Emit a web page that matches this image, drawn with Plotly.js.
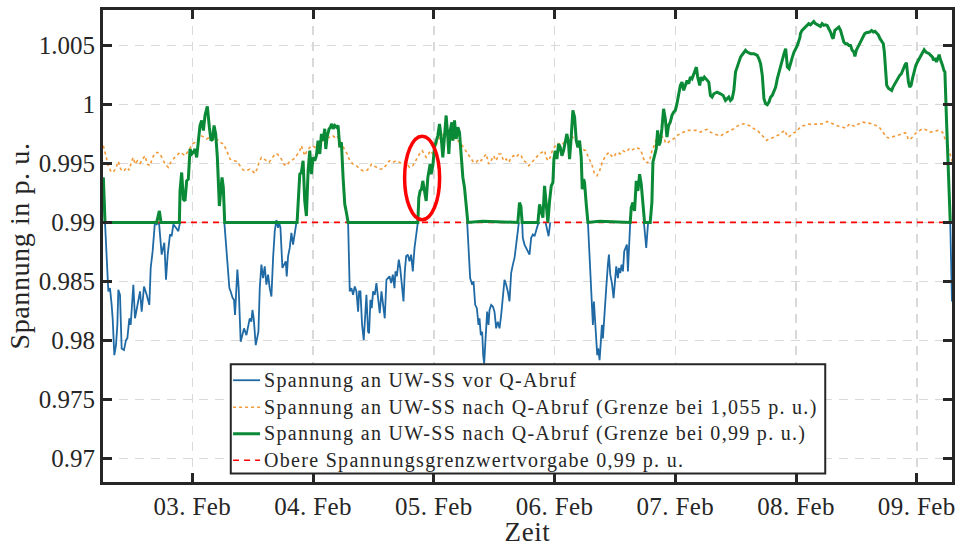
<!DOCTYPE html>
<html>
<head>
<meta charset="utf-8">
<script src="https://cdn.plot.ly/plotly-3.0.1.min.js"></script>
<style>
html,body{margin:0;padding:0;background:#fff;}
#chart{width:955px;height:547px;}
.annotation-text{letter-spacing:1.3px;}
.xtick text{letter-spacing:0.4px;}
.g-xtitle text,.g-ytitle text{letter-spacing:0.6px;}
</style>
</head>
<body>
<div id="chart"></div>
<script>
// Hours relative to 03. Feb 00:00
var blueHours = [-17.69,-17.36,-16.70,-16.37,-16.04,-15.84,-15.51,-15.18,-14.91,-14.71,-14.38,-14.05,-13.59,-13.19,-12.92,-12.52,-12.26,-11.73,-11.40,-10.93,-10.40,-10.07,-9.61,-9.08,-8.55,-8.28,-7.89,-7.42,-7.09,-6.63,-6.10,-5.57,-5.24,-4.90,-4.44,-4.11,-3.78,-3.25,-2.78,-2.45,null,
 6.36,7.36,7.62,8.02,8.28,8.48,8.95,9.21,9.61,10.01,10.27,10.75,11.08,11.41,11.74,11.94,12.20,12.40,12.60,12.87,13.13,13.40,13.73,14.06,14.39,14.72,15.05,15.38,15.72,16.05,16.38,16.71,17.04,17.24,17.51,17.90,18.23,18.57,18.76,19.03,19.36,19.69,20.02,20.36,20.69,null,
 30.96,31.29,31.62,31.95,32.28,32.62,32.95,33.15,33.41,33.74,34.07,34.40,34.60,34.93,35.13,35.40,35.66,35.93,36.26,36.59,36.92,37.25,37.59,37.92,38.25,38.58,38.91,39.19,39.52,39.85,40.18,40.38,40.64,41.04,41.31,41.70,41.97,42.23,42.50,42.83,43.16,43.49,43.82,44.16,44.49,44.82,null,
 54.63,54.96,55.22,55.62,55.89,56.22,56.55,56.88,57.08,57.34,57.61,57.81,58.01,58.21,58.40,58.60,58.87,59.07,59.40,59.73,60.06,60.39,60.72,61.06,61.39,61.72,62.05,62.38,62.71,63.04,63.37,63.71,64.04,64.37,64.70,64.90,null,
 65.56,65.69,66.02,66.36,66.69,67.02,67.35,67.69,68.02,68.36,68.69,69.02,null,
 70.21,70.54,70.81,71.14,null,
 78.63,78.83,79.09,79.36,79.62,79.82,80.09,80.28,80.48,80.68,80.95,81.15,81.41,81.61,81.94,82.27,82.60,82.80,83.07,83.40,83.73,83.99,84.26,84.59,84.79,85.06,85.32,85.59,85.85,86.12,86.38,86.58,86.78,87.04,null,
 89.76,90.03,90.22,90.56,90.75,null,
 150.65,151.0];
var blueValues = [0.99381,0.99,0.98415,0.98443,0.98301,0.98187,0.97875,0.9796,0.98131,0.98429,0.98386,0.97932,0.97918,0.98003,0.98017,0.98187,0.98131,0.98472,0.98187,0.98301,0.98415,0.98244,0.98457,0.98386,0.98301,0.98614,0.98756,0.99011,0.98983,0.99,0.98727,0.98827,0.98514,0.98727,0.98898,0.98883,0.98983,0.98955,0.98926,0.99,null,
 0.99,0.98443,0.98415,0.98358,0.98344,0.98216,0.986,0.98443,0.97989,0.98074,0.98102,0.98045,0.98131,0.98187,0.98159,0.98258,0.98187,0.98017,0.9796,0.98017,0.98074,0.98443,0.98642,0.98528,0.98628,0.98472,0.98557,0.98443,0.98372,0.98699,0.98926,0.9902,0.98955,0.99,0.98955,0.98614,0.98642,0.9867,0.98543,0.98713,0.98784,0.98912,0.98812,0.98926,0.99,null,
 0.99,0.98415,0.98443,0.98386,0.98457,0.98415,0.98244,0.98415,0.98415,0.98131,0.98003,0.98244,0.98386,0.98074,0.9806,0.98344,0.98273,0.98415,0.98386,0.98486,0.98358,0.9823,0.98415,0.98301,0.98187,0.98514,0.98528,0.98543,0.98486,0.98557,0.98443,0.98585,0.98543,0.98685,0.98614,0.98472,0.9833,0.98585,0.98713,0.98727,0.9867,0.98727,0.98585,0.98784,0.98898,0.99,null,
 0.99,0.98699,0.98528,0.98472,0.985,0.98301,0.98273,0.98131,0.98187,0.98045,0.98074,0.97875,0.97804,0.9796,0.98131,0.98244,0.98131,0.98258,0.98301,0.98287,0.98244,0.98102,0.98159,0.98102,0.98216,0.98386,0.98514,0.98472,0.98415,0.9833,0.98571,0.98642,0.98699,0.98812,0.98926,0.99,null,
 0.99,0.98869,0.98812,0.98784,0.98756,0.98727,0.98869,0.98898,0.98883,0.9894,0.98983,0.99,null,
 0.99,0.9894,0.98883,0.99,null,
 0.99,0.98812,0.98585,0.98301,0.98131,0.9833,0.98102,0.97932,0.97875,0.97932,0.97832,0.9796,0.98131,0.98017,0.98273,0.98443,0.98642,0.98727,0.98557,0.98486,0.98358,0.985,0.98628,0.98528,0.98614,0.98571,0.98642,0.98585,0.98756,0.98784,0.98812,0.98585,0.98827,0.99,null,
 0.99,0.98869,0.98784,0.98983,0.99,null,
 0.99,0.9833];

var orangeHours = [-17.69,-17.16,-16.70,-16.24,-15.71,-15.18,-14.71,-14.38,-14.05,-13.59,-13.06,-12.52,-12.06,-11.73,-11.40,-10.93,-10.40,-9.87,-9.41,-8.95,-8.42,-7.89,-7.42,-6.96,-6.43,-5.90,-5.43,-4.77,-4.31,-3.78,-3.11,-2.45,-1.92,-1.46,-0.99,-0.46,0.07,0.53,1.19,1.72,2.32,2.85,3.51,4.17,4.84,5.50,6.16,6.83,7.49,8.15,8.81,9.48,10.14,
 10.75,11.41,11.94,12.40,12.87,13.26,13.73,14.19,14.72,15.25,15.72,16.18,16.71,17.24,17.70,18.17,18.70,19.23,19.69,20.16,20.69,21.35,21.68,22.01,22.34,22.81,23.34,23.87,24.33,24.80,25.33,25.99,26.65,27.31,27.84,28.31,28.77,29.30,29.83,30.30,30.76,31.29,31.95,32.62,33.28,33.94,34.60,35.27,35.60,36.06,36.59,37.25,37.92,38.58,
 39.19,39.85,40.51,41.17,41.84,42.50,43.16,43.82,44.49,45.15,45.68,46.14,46.48,46.81,47.27,47.80,48.33,48.80,49.46,50.12,50.78,51.45,52.11,52.77,53.43,54.10,54.76,55.42,55.89,56.42,56.95,57.41,57.87,58.40,58.93,59.40,59.86,60.39,60.92,61.39,61.85,62.38,62.91,63.37,63.84,64.37,64.90,65.36,65.83,66.36,66.89,
 67.69,68.36,69.02,69.68,70.01,70.34,70.67,71.14,71.67,72.20,72.66,73.13,73.66,74.19,74.85,75.51,76.18,76.84,77.50,78.16,78.63,79.09,79.49,79.95,80.42,80.95,81.48,82.14,82.80,83.27,83.73,84.13,84.59,85.06,85.59,86.25,86.78,87.24,87.71,88.24,88.90,89.43,
 89.68,90.02,90.48,90.88,91.15,91.41,91.68,92.01,92.34,92.68,93.01,93.34,93.67,94.01,94.34,94.67,95.00,95.67,96.33,97.00,97.66,98.33,98.99,99.66,100.32,100.99,101.65,102.32,102.98,103.65,104.31,104.98,105.64,106.31,106.97,107.64,108.30,108.97,109.63,110.30,110.96,111.63,112.29,112.95,113.62,114.15,114.62,115.28,115.95,116.61,117.28,117.74,118.07,118.41,118.94,119.60,120.27,
 120.53,121.19,121.86,122.52,123.19,123.85,124.52,125.18,125.85,126.18,126.51,127.18,127.84,128.51,129.17,129.84,130.37,130.70,131.17,131.70,132.16,132.63,133.16,133.83,134.49,135.16,135.82,136.49,137.02,137.48,137.95,138.48,139.15,139.81,140.48,141.14,141.67,142.01,142.27,142.67,143.14,143.67,144.13,144.60,145.13,145.66,146.13,146.59,147.12,147.66,148.12,148.59,149.12,149.59,149.92,150.18,150.45,150.78,151.11];
var orangeValues = [0.9965,0.99551,0.9948,0.99437,0.99423,0.99466,0.99517,0.99466,0.99437,0.99437,0.99466,0.99443,0.99523,0.99551,0.99494,0.99523,0.995,0.99537,0.99565,0.99494,0.9948,0.99551,0.99585,0.99594,0.9958,0.99537,0.99494,0.99466,0.99509,0.99537,0.99565,0.99594,0.9958,0.99565,0.99594,0.99636,0.99665,0.99679,0.99707,0.99736,0.99722,0.99707,0.99722,0.99693,0.99707,0.99679,0.99665,0.99608,0.99537,0.99523,0.99517,0.9948,0.99443,
 0.99437,0.99452,0.99437,0.99415,0.99452,0.99509,0.99551,0.99537,0.99523,0.99509,0.99537,0.99565,0.99585,0.99565,0.99537,0.99494,0.9948,0.99509,0.99523,0.99537,0.99565,0.99608,0.9965,0.99608,0.99565,0.99608,0.99636,0.9965,0.99636,0.99665,0.9967,0.99693,0.99707,0.99722,0.99736,0.99722,0.99736,0.99693,0.9965,0.99622,0.9958,0.99523,0.99494,0.9948,0.99452,0.99437,0.99437,0.99466,0.99494,0.9948,0.99466,0.99452,0.99452,0.99494,
 0.99523,0.99509,0.99523,0.99509,0.99494,0.99509,0.99466,0.9948,0.99537,0.9958,0.99608,0.9958,0.99551,0.99565,0.99608,0.9958,0.9965,0.99693,0.99736,0.9975,0.99722,0.99699,0.99707,0.99693,0.99665,0.99622,0.9958,0.99537,0.99509,0.99509,0.99537,0.99523,0.99551,0.9958,0.99494,0.99523,0.99565,0.99523,0.9958,0.9958,0.99523,0.99537,0.99509,0.99551,0.99565,0.99551,0.9958,0.99565,0.99523,0.99509,0.9948,
 0.99523,0.99551,0.9958,0.99594,0.99608,0.99551,0.99523,0.99551,0.99622,0.9965,0.9967,0.9965,0.99665,0.99693,0.99722,0.99727,0.99693,0.99665,0.99622,0.99608,0.99565,0.99509,0.9948,0.99409,0.99395,0.99437,0.99509,0.99565,0.99594,0.99565,0.99551,0.9958,0.99594,0.9958,0.99608,0.99594,0.99622,0.99608,0.99622,0.99636,0.99622,0.9958,
 0.9954,0.99511,0.99506,0.99525,0.99568,0.99624,0.99638,0.99681,0.99723,0.99695,0.99709,0.99723,0.99723,0.99681,0.99667,0.99681,0.99695,0.99709,0.99737,0.99751,0.99765,0.9978,0.9978,0.9978,0.9978,0.99765,0.9978,0.99788,0.99765,0.99751,0.99743,0.99732,0.99751,0.99765,0.9978,0.99794,0.99816,0.9983,0.99836,0.99828,0.99816,0.99794,0.9978,0.99751,0.99723,0.99695,0.99709,0.99715,0.99732,0.99743,0.99765,0.9978,0.99751,0.99723,0.99737,0.9976,0.99771,
 0.99794,0.99816,0.99828,0.99833,0.9983,0.9983,0.99833,0.99836,0.99845,0.99856,0.9985,0.99836,0.99822,0.99814,0.99808,0.99799,0.99822,0.99836,0.99822,0.99814,0.99828,0.99836,0.9985,0.99845,0.99842,0.99836,0.99822,0.99808,0.9978,0.99751,0.99723,0.99715,0.99723,0.99732,0.99743,0.99751,0.9976,0.99751,0.99703,0.99703,0.99723,0.99751,0.99765,0.9978,0.99794,0.99788,0.9978,0.99765,0.99765,0.99771,0.9978,0.99774,0.99765,0.99709,0.99681,0.99638,0.99596,0.99554,0.99511];

var greenHours = [-17.69,-17.36,-7.09,-6.56,-6.23,-2.58,-2.45,-2.12,-1.79,-1.46,-1.13,-0.80,-0.46,-0.13,0.20,0.53,0.86,1.19,1.52,1.86,2.19,2.52,2.98,3.38,3.71,4.04,4.31,4.64,4.97,5.37,5.63,5.90,6.16,6.43,
 20.82,21.02,21.35,21.68,22.01,22.34,22.67,23.01,23.34,23.67,24.00,24.33,24.66,24.99,25.33,25.66,25.99,26.32,26.52,26.78,27.18,27.45,27.71,27.98,28.31,28.64,28.97,29.30,29.63,29.96,30.30,30.63,30.96,
 44.82,45.02,45.28,45.55,45.81,46.14,46.48,46.81,47.01,47.27,47.47,47.80,48.13,48.46,48.80,49.13,49.46,49.79,50.12,50.45,50.78,50.98,51.25,51.58,51.78,52.11,52.44,52.77,53.10,53.43,53.77,54.10,54.43,54.76,57.74,64.70,65.03,65.30,65.56,
 68.69,69.02,69.35,69.68,70.01,70.34,70.67,71.01,71.34,71.67,71.87,72.13,72.46,72.80,73.13,73.46,73.79,74.12,74.45,74.78,74.98,75.31,75.64,75.98,76.31,76.64,76.97,77.30,77.50,77.77,77.96,78.30,78.63,80.95,
 87.04,87.24,87.57,87.90,88.24,88.57,88.90,89.23,89.56,89.89,91.01,
 91.35,91.55,91.81,92.21,92.48,92.74,93.01,93.34,93.67,94.01,94.34,94.67,95.00,95.34,95.67,96.00,96.33,96.66,97.00,97.33,97.66,97.99,98.33,98.66,98.99,99.32,99.66,99.99,100.19,100.45,100.85,101.12,101.39,101.78,102.12,102.65,102.98,103.31,103.65,104.31,104.98,105.51,105.97,106.31,106.64,106.97,107.30,107.64,107.97,108.30,108.63,108.97,109.30,109.63,109.96,110.30,110.96,111.63,112.29,112.62,112.95,113.29,113.62,113.95,114.28,114.62,114.95,115.28,115.61,115.95,116.28,116.61,116.94,117.28,117.61,117.94,118.28,118.61,118.94,119.27,119.60,119.94,120.27,120.80,
 120.86,121.19,121.53,121.86,122.19,122.52,122.86,123.19,123.52,123.85,124.19,124.52,124.85,125.18,125.52,125.85,126.18,126.51,126.85,127.18,127.38,127.71,128.18,128.51,128.84,129.17,129.51,129.84,130.17,130.50,130.84,131.17,131.50,131.70,131.97,132.30,132.63,132.96,133.30,133.63,133.96,134.29,134.62,135.02,135.36,135.69,136.02,136.35,136.69,137.02,137.35,137.55,137.82,138.02,138.35,138.68,139.01,139.28,139.61,139.94,140.28,140.61,140.94,141.27,141.67,141.94,142.14,142.34,142.60,142.87,143.14,143.47,143.80,144.13,144.47,144.80,145.13,145.46,145.80,146.13,146.46,146.79,147.12,147.32,147.66,147.92,148.19,148.45,148.65,148.92,149.12,149.39,149.59,149.92,150.18,150.45,150.65,150.92];
var greenValues = [0.99381,0.99,0.99,0.99097,0.99,0.99,0.99267,0.99423,0.99196,0.99182,0.99352,0.99366,0.99622,0.9958,0.99594,0.99622,0.99551,0.99665,0.99821,0.99864,0.99778,0.99906,0.99983,0.99807,0.99693,0.99707,0.99821,0.9975,0.99551,0.99139,0.99267,0.99381,0.99295,0.99,
 0.99,0.99153,0.99409,0.99423,0.99523,0.99182,0.99054,0.99437,0.99608,0.99409,0.99551,0.99523,0.99565,0.99693,0.9958,0.9975,0.99693,0.99793,0.99622,0.99722,0.99793,0.99807,0.99835,0.99793,0.99821,0.99807,0.99821,0.99636,0.99679,0.99381,0.99153,0.99082,0.99,
 0.99,0.9921,0.99267,0.99281,0.99352,0.99281,0.99182,0.99381,0.99437,0.99494,0.99409,0.9948,0.99636,0.99693,0.99736,0.99835,0.99722,0.99551,0.9975,0.99906,0.99722,0.9958,0.99778,0.99849,0.99693,0.99864,0.99707,0.99807,0.99764,0.99523,0.99381,0.99295,0.99153,0.99,0.9901,0.99,0.99168,0.99139,0.99,
 0.99,0.99153,0.99097,0.9904,0.9931,0.99125,0.99,0.99182,0.9931,0.99338,0.99537,0.99608,0.99537,0.99665,0.99636,0.99565,0.99608,0.99679,0.9975,0.99665,0.99537,0.99722,0.99949,0.99892,0.99693,0.99636,0.99693,0.99551,0.99281,0.99366,0.99338,0.99153,0.99,0.9901,
 0.99,0.99125,0.99168,0.99097,0.99352,0.99267,0.99409,0.99324,0.99182,0.99,0.99,
 0.99172,0.99511,0.99568,0.99624,0.9978,0.99653,0.99681,0.99794,0.99963,0.99879,0.99723,0.99822,0.9985,0.99907,0.99935,0.99949,1.00006,1.0009,1.00161,1.00189,1.00119,1.00161,1.00203,1.00175,1.00232,1.00218,1.0026,1.00302,1.00316,1.00232,1.00161,1.00232,1.00203,1.00232,1.00218,1.00189,1.00076,1.00062,1.0009,1.00104,1.0009,1.00076,1.00034,1.00048,1.00062,1.00034,1.00048,1.00119,1.00274,1.00316,1.00359,1.00401,1.00421,1.00444,1.00458,1.00444,1.0043,1.0043,1.00415,1.00387,1.00345,1.00246,1.00048,1.00006,0.99997,1.0002,1.00062,1.00076,1.00119,1.00147,1.00218,1.00274,1.0033,1.00387,1.0043,1.00472,1.00316,1.00302,1.00359,1.00401,1.00444,1.00472,1.005,1.00571,
 1.00599,1.00627,1.00641,1.00655,1.0067,1.00684,1.00675,1.00692,1.00703,1.00684,1.00675,1.0067,1.00661,1.00684,1.0067,1.00675,1.0067,1.00641,1.00613,1.00571,1.00557,1.00627,1.00647,1.00655,1.00627,1.00571,1.00528,1.00514,1.00514,1.005,1.005,1.00458,1.00444,1.00407,1.00458,1.00486,1.00514,1.00542,1.00571,1.00599,1.00607,1.00613,1.00613,1.00627,1.00613,1.00619,1.00599,1.0059,1.00557,1.00534,1.00514,1.00444,1.00274,1.00161,1.00138,1.00127,1.00119,1.00147,1.00175,1.00189,1.00218,1.00246,1.0026,1.00302,1.00336,1.00353,1.00274,1.00189,1.00147,1.00161,1.00218,1.00288,1.0033,1.00359,1.00387,1.00421,1.00449,1.00463,1.00444,1.00438,1.0043,1.00415,1.00401,1.00373,1.00393,1.00359,1.00401,1.00421,1.00387,1.00359,1.0033,1.00288,1.00274,0.9985,0.99483,0.99116,0.99003,0.99];

var limitHours = [-17.76, 151.0];
var limitValue = 0.99;

var xTickDays = ['2021-02-03','2021-02-04','2021-02-05','2021-02-06','2021-02-07','2021-02-08','2021-02-09'];
var yTickVals = [0.97,0.975,0.98,0.985,0.99,0.995,1,1.005];
var yTickText = ['0.97','0.975','0.98','0.985','0.99','0.995','1','1.005'];

var seriesNames = [
  'Spannung an UW-SS vor Q-Abruf',
  'Spannung an UW-SS nach Q-Abruf (Grenze bei 1,055 p. u.)',
  'Spannung an UW-SS nach Q-Abruf (Grenze bei 0,99 p. u.)',
  'Obere Spannungsgrenzwertvorgabe 0,99 p. u.'
];

var base = Date.UTC(2021, 1, 3, 0, 0, 0);
function toDate(h) {
  if (h === null) return null;
  return new Date(base + h * 3600000).toISOString().replace('T', ' ').replace('Z', '').slice(0, 19);
}

var font = 'Liberation Serif, Times New Roman, serif';
var dark = '#262626';

var styles = [
  {color: '#1f6aa5', width: 1.8, dash: 'solid'},
  {color: '#f29a38', width: 1.6, dash: 'dot'},
  {color: '#0a8a36', width: 3, dash: 'solid'},
  {color: '#ff0000', width: 1.6, dash: '6px,5px'}
];

var traces = [
  {x: blueHours.map(toDate), y: blueValues, name: seriesNames[0], mode: 'lines', line: styles[0], connectgaps: false},
  {x: orangeHours.map(toDate), y: orangeValues, name: seriesNames[1], mode: 'lines', line: styles[1]},
  {x: limitHours.map(toDate), y: limitHours.map(function(){return limitValue;}), name: seriesNames[3], mode: 'lines', line: styles[3]},
  {x: greenHours.map(toDate), y: greenValues, name: seriesNames[2], mode: 'lines', line: styles[2]}
];

// Legend box drawn in paper coordinates (layout only)
var legBox = {x0: 0.1505, x1: 0.8507, y0: 0.0178, y1: 0.2495};
var legRowsY = [0.2156, 0.1584, 0.1022, 0.0460];
var legLineX = [0.1532, 0.1850];
var legTextX = 0.1873;

var shapes = [{
  type: 'circle', xref: 'x', yref: 'y',
  x0: toDate(42.19), x1: toDate(49.15), y0: 0.99022, y1: 0.99731,
  line: {color: '#ff0000', width: 3.5}
}, {
  type: 'rect', xref: 'paper', yref: 'paper',
  x0: legBox.x0, x1: legBox.x1, y0: legBox.y0, y1: legBox.y1,
  fillcolor: '#ffffff', line: {color: dark, width: 2}
}];
var annotations = [];
seriesNames.forEach(function(name, i) {
  shapes.push({type: 'line', xref: 'paper', yref: 'paper',
    x0: legLineX[0], x1: legLineX[1], y0: legRowsY[i], y1: legRowsY[i],
    line: {color: styles[i].color, width: styles[i].width, dash: styles[i].dash}});
  annotations.push({xref: 'paper', yref: 'paper', x: legTextX, y: legRowsY[i],
    xanchor: 'left', yanchor: 'middle', showarrow: false, text: name,
    font: {family: font, size: 20, color: dark}});
});

var layout = {
  width: 955, height: 547,
  margin: {l: 103, r: 3, t: 10, b: 65},
  paper_bgcolor: '#ffffff', plot_bgcolor: '#ffffff',
  font: {family: font, color: dark, size: 24},
  showlegend: false,
  xaxis: {
    type: 'date',
    range: [toDate(limitHours[0]), toDate(limitHours[1])],
    tickvals: xTickDays, tickformat: '%d. %b',
    ticks: 'inside', ticklen: 9, tickwidth: 3, tickcolor: dark,
    showline: true, linewidth: 3, linecolor: dark, mirror: 'ticks',
    showgrid: true, gridcolor: '#d9d9d9', gridwidth: 1.5, griddash: '9px,7px',
    zeroline: false, ticklabeloverflow: 'allow',
    tickfont: {family: font, size: 25, color: dark},
    title: {text: 'Zeit', font: {family: font, size: 27, color: dark}, standoff: 9}
  },
  yaxis: {
    range: [0.968, 1.008],
    tickvals: yTickVals, ticktext: yTickText,
    ticks: 'inside', ticklen: 9, tickwidth: 3, tickcolor: dark,
    showline: true, linewidth: 3, linecolor: dark, mirror: 'ticks',
    showgrid: true, gridcolor: '#d9d9d9', gridwidth: 1.5, griddash: '9px,7px',
    zeroline: false,
    tickfont: {family: font, size: 25, color: dark},
    title: {text: 'Spannung in p. u.', font: {family: font, size: 28, color: dark}, standoff: 1}
  },
  shapes: shapes,
  annotations: annotations
};

Plotly.newPlot('chart', traces, layout, {displayModeBar: false, staticPlot: true});
</script>
</body>
</html>
